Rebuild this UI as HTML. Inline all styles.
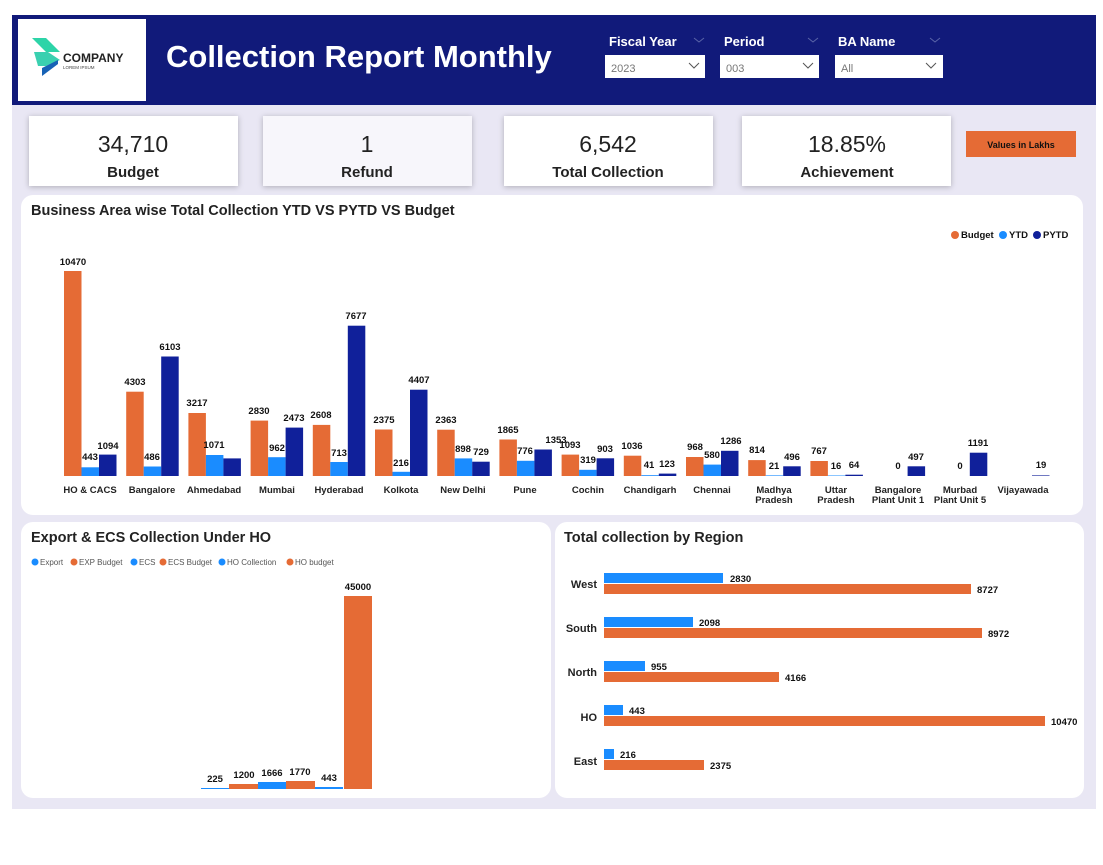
<!DOCTYPE html>
<html><head><meta charset="utf-8"><style>
body{margin:0;background:#fff;}
svg{display:block;font-family:"Liberation Sans",sans-serif;}
.v{font-size:9.5px;font-weight:bold;fill:#111;text-anchor:middle}
.c{font-size:9.5px;font-weight:bold;fill:#222;text-anchor:middle}
.o{fill:#e56b35}.y{fill:#1a8cff}.p{fill:#10209a}
</style></head><body>
<svg width="1103" height="865" viewBox="0 0 1103 865">
<rect x="12" y="15" width="1084" height="794" fill="#e9e7f4"/>
<rect x="12" y="15" width="1084" height="90" fill="#111a7a"/>
<rect x="18" y="19" width="128" height="82" fill="#fff"/>
<polygon points="32,38 46,38 60,52 46,52" fill="#2dd4a8"/>
<polygon points="34,52 48,52 60,60 46,66 38,66" fill="#3ad0b0"/>
<polygon points="42,68 58,60 58,64 42,76" fill="#1762b5"/>
<text x="63" y="62" font-size="12" font-weight="bold" fill="#222">COMPANY</text>
<text x="63" y="69" font-size="4.5" fill="#444">LOREM IPSUM</text>
<text x="166" y="67" font-size="31" font-weight="bold" fill="#fff">Collection Report Monthly</text>
<g font-size="13" font-weight="bold" fill="#fff">
<text x="609" y="46">Fiscal Year</text><text x="724" y="46">Period</text><text x="838" y="46">BA Name</text></g>
<g stroke="#5a64a8" fill="none" stroke-width="1"><polyline points="694,38 699,42 704,38"/><polyline points="808,38 813,42 818,38"/><polyline points="930,38 935,42 940,38"/></g>
<rect x="605" y="55" width="100" height="23" fill="#fff"/><rect x="720" y="55" width="99" height="23" fill="#fff"/><rect x="835" y="55" width="108" height="23" fill="#fff"/>
<g font-size="11" fill="#777"><text x="611" y="72">2023</text><text x="726" y="72">003</text><text x="841" y="72">All</text></g>
<g stroke="#555" fill="none"><polyline points="689,63 694,68 699,63"/><polyline points="803,63 808,68 813,63"/><polyline points="926,63 931,68 936,63"/></g>
<g fill="#fff" style="filter:drop-shadow(0 1px 3px rgba(0,0,0,.25))">
<rect x="29" y="116" width="209" height="70"/><rect x="263" y="116" width="209" height="70" fill="#f7f6fb"/><rect x="504" y="116" width="209" height="70"/><rect x="742" y="116" width="209" height="70"/></g>
<g text-anchor="middle" fill="#222"><g font-size="23"><text x="133" y="152">34,710</text><text x="367" y="152">1</text><text x="608" y="152">6,542</text><text x="847" y="152">18.85%</text></g>
<g font-size="15" font-weight="bold"><text x="133" y="177">Budget</text><text x="367" y="177">Refund</text><text x="608" y="177">Total Collection</text><text x="847" y="177">Achievement</text></g></g>
<rect x="966" y="131" width="110" height="26" fill="#e56b35"/>
<text x="1021" y="148" font-size="9" font-weight="bold" text-anchor="middle" fill="#111">Values in Lakhs</text>
<rect x="21" y="195" width="1062" height="320" rx="12" fill="#fff"/>
<rect x="21" y="522" width="530" height="276" rx="12" fill="#fff"/>
<rect x="555" y="522" width="529" height="276" rx="12" fill="#fff"/>
<text x="31" y="215" font-size="14.5" font-weight="bold" fill="#222">Business Area wise Total Collection YTD VS PYTD VS Budget</text>
<circle cx="955" cy="235" r="4" class="o"/><circle cx="1003" cy="235" r="4" class="y"/><circle cx="1037" cy="235" r="4" class="p"/>
<g font-size="9.5" font-weight="bold" fill="#111"><text x="961" y="238">Budget</text><text x="1009" y="238">YTD</text><text x="1043" y="238">PYTD</text></g>
<g>
<rect class="o" x="64" y="271" width="17.5" height="205"/><rect class="y" x="81.5" y="467.3" width="17.5" height="8.7"/><rect class="p" x="99" y="454.6" width="17.5" height="21.4"/>
<rect class="o" x="126.2" y="391.7" width="17.5" height="84.3"/><rect class="y" x="143.7" y="466.5" width="17.5" height="9.5"/><rect class="p" x="161.2" y="356.5" width="17.5" height="119.5"/>
<rect class="o" x="188.4" y="413" width="17.5" height="63"/><rect class="y" x="205.9" y="455" width="17.5" height="21"/><rect class="p" x="223.4" y="458.4" width="17.5" height="17.6"/>
<rect class="o" x="250.6" y="420.6" width="17.5" height="55.4"/><rect class="y" x="268.1" y="457.2" width="17.5" height="18.8"/><rect class="p" x="285.6" y="427.6" width="17.5" height="48.4"/>
<rect class="o" x="312.8" y="424.9" width="17.5" height="51.1"/><rect class="y" x="330.3" y="462" width="17.5" height="14"/><rect class="p" x="347.8" y="325.7" width="17.5" height="150.3"/>
<rect class="o" x="375" y="429.5" width="17.5" height="46.5"/><rect class="y" x="392.5" y="471.8" width="17.5" height="4.2"/><rect class="p" x="410" y="389.7" width="17.5" height="86.3"/>
<rect class="o" x="437.2" y="429.7" width="17.5" height="46.3"/><rect class="y" x="454.7" y="458.4" width="17.5" height="17.6"/><rect class="p" x="472.2" y="461.7" width="17.5" height="14.3"/>
<rect class="o" x="499.4" y="439.5" width="17.5" height="36.5"/><rect class="y" x="516.9" y="460.8" width="17.5" height="15.2"/><rect class="p" x="534.4" y="449.5" width="17.5" height="26.5"/>
<rect class="o" x="561.6" y="454.6" width="17.5" height="21.4"/><rect class="y" x="579.1" y="469.8" width="17.5" height="6.2"/><rect class="p" x="596.6" y="458.3" width="17.5" height="17.7"/>
<rect class="o" x="623.8" y="455.7" width="17.5" height="20.3"/><rect class="y" x="641.3" y="475.2" width="17.5" height="0.8"/><rect class="p" x="658.8" y="473.6" width="17.5" height="2.4"/>
<rect class="o" x="686" y="457" width="17.5" height="19"/><rect class="y" x="703.5" y="464.6" width="17.5" height="11.4"/><rect class="p" x="721" y="450.8" width="17.5" height="25.2"/>
<rect class="o" x="748.2" y="460.1" width="17.5" height="15.9"/><rect class="y" x="765.7" y="475.4" width="17.5" height="0.6"/><rect class="p" x="783.2" y="466.3" width="17.5" height="9.7"/>
<rect class="o" x="810.4" y="461" width="17.5" height="15"/><rect class="y" x="827.9" y="475.5" width="17.5" height="0.5"/><rect class="p" x="845.4" y="474.7" width="17.5" height="1.3"/>
<rect class="p" x="907.6" y="466.3" width="17.5" height="9.7"/>
<rect class="p" x="969.8" y="452.7" width="17.5" height="23.3"/>
<rect class="p" x="1032" y="475.4" width="17.5" height="0.6"/>
</g>
<g>
<text class="v" x="73" y="265">10470</text><text class="v" x="90" y="460">443</text><text class="v" x="108" y="449">1094</text>
<text class="v" x="135" y="385">4303</text><text class="v" x="152" y="460">486</text><text class="v" x="170" y="350">6103</text>
<text class="v" x="197" y="406">3217</text><text class="v" x="214" y="448">1071</text>
<text class="v" x="259" y="414">2830</text><text class="v" x="277" y="451">962</text><text class="v" x="294" y="421">2473</text>
<text class="v" x="321" y="418">2608</text><text class="v" x="339" y="456">713</text><text class="v" x="356" y="319">7677</text>
<text class="v" x="384" y="423">2375</text><text class="v" x="401" y="466">216</text><text class="v" x="419" y="383">4407</text>
<text class="v" x="446" y="423">2363</text><text class="v" x="463" y="452">898</text><text class="v" x="481" y="455">729</text>
<text class="v" x="508" y="433">1865</text><text class="v" x="525" y="454">776</text><text class="v" x="556" y="443">1353</text>
<text class="v" x="570" y="448">1093</text><text class="v" x="588" y="463">319</text><text class="v" x="605" y="452">903</text>
<text class="v" x="632" y="449">1036</text><text class="v" x="649" y="468">41</text><text class="v" x="667" y="467">123</text>
<text class="v" x="695" y="450">968</text><text class="v" x="712" y="458">580</text><text class="v" x="731" y="444">1286</text>
<text class="v" x="757" y="453">814</text><text class="v" x="774" y="469">21</text><text class="v" x="792" y="460">496</text>
<text class="v" x="819" y="454">767</text><text class="v" x="836" y="469">16</text><text class="v" x="854" y="468">64</text>
<text class="v" x="898" y="469">0</text><text class="v" x="916" y="460">497</text>
<text class="v" x="960" y="469">0</text><text class="v" x="978" y="446">1191</text>
<text class="v" x="1041" y="468">19</text>
</g>
<g>
<text class="c" x="90" y="493">HO &amp; CACS</text><text class="c" x="152" y="493">Bangalore</text><text class="c" x="214" y="493">Ahmedabad</text><text class="c" x="277" y="493">Mumbai</text>
<text class="c" x="339" y="493">Hyderabad</text><text class="c" x="401" y="493">Kolkota</text><text class="c" x="463" y="493">New Delhi</text><text class="c" x="525" y="493">Pune</text>
<text class="c" x="588" y="493">Cochin</text><text class="c" x="650" y="493">Chandigarh</text><text class="c" x="712" y="493">Chennai</text>
<text class="c" x="774" y="493">Madhya</text><text class="c" x="774" y="503">Pradesh</text>
<text class="c" x="836" y="493">Uttar</text><text class="c" x="836" y="503">Pradesh</text>
<text class="c" x="898" y="493">Bangalore</text><text class="c" x="898" y="503">Plant Unit 1</text>
<text class="c" x="960" y="493">Murbad</text><text class="c" x="960" y="503">Plant Unit 5</text>
<text class="c" x="1023" y="493">Vijayawada</text>
</g>
<text x="31" y="542" font-size="14.5" font-weight="bold" fill="#222">Export &amp; ECS Collection Under HO</text>
<g font-size="8" fill="#555">
<circle cx="35" cy="562" r="3.5" class="y"/><text x="40" y="565">Export</text>
<circle cx="74" cy="562" r="3.5" class="o"/><text x="79" y="565">EXP Budget</text>
<circle cx="134" cy="562" r="3.5" class="y"/><text x="139" y="565">ECS</text>
<circle cx="163" cy="562" r="3.5" class="o"/><text x="168" y="565">ECS Budget</text>
<circle cx="222" cy="562" r="3.5" class="y"/><text x="227" y="565">HO Collection</text>
<circle cx="290" cy="562" r="3.5" class="o"/><text x="295" y="565">HO budget</text></g>
<rect class="y" x="201" y="788" width="28" height="1"/>
<rect class="o" x="229" y="784" width="29" height="5"/>
<rect class="y" x="258" y="782" width="28" height="7"/>
<rect class="o" x="286" y="781" width="29" height="8"/>
<rect class="y" x="315" y="787" width="28" height="2"/>
<rect class="o" x="344" y="596" width="28" height="193"/>
<text class="v" x="215" y="782">225</text><text class="v" x="244" y="778">1200</text><text class="v" x="272" y="776">1666</text><text class="v" x="300" y="775">1770</text><text class="v" x="329" y="781">443</text><text class="v" x="358" y="590">45000</text>
<text x="564" y="542" font-size="14.5" font-weight="bold" fill="#222">Total collection by Region</text>
<g font-size="11" font-weight="bold" fill="#222" text-anchor="end">
<text x="597" y="588">West</text><text x="597" y="632">South</text><text x="597" y="676">North</text><text x="597" y="721">HO</text><text x="597" y="765">East</text></g>
<rect class="y" x="604" y="573" width="119" height="10"/><rect class="o" x="604" y="584" width="367" height="10"/>
<rect class="y" x="604" y="617" width="89" height="10"/><rect class="o" x="604" y="628" width="378" height="10"/>
<rect class="y" x="604" y="661" width="41" height="10"/><rect class="o" x="604" y="672" width="175" height="10"/>
<rect class="y" x="604" y="705" width="19" height="10"/><rect class="o" x="604" y="716" width="441" height="10"/>
<rect class="y" x="604" y="749" width="10" height="10"/><rect class="o" x="604" y="760" width="100" height="10"/>
<g font-size="9.5" font-weight="bold" fill="#111">
<text x="730" y="582">2830</text><text x="977" y="593">8727</text>
<text x="699" y="626">2098</text><text x="988" y="637">8972</text>
<text x="651" y="670">955</text><text x="785" y="681">4166</text>
<text x="629" y="714">443</text><text x="1051" y="725">10470</text>
<text x="620" y="758">216</text><text x="710" y="769">2375</text></g>
</svg>
</body></html>
